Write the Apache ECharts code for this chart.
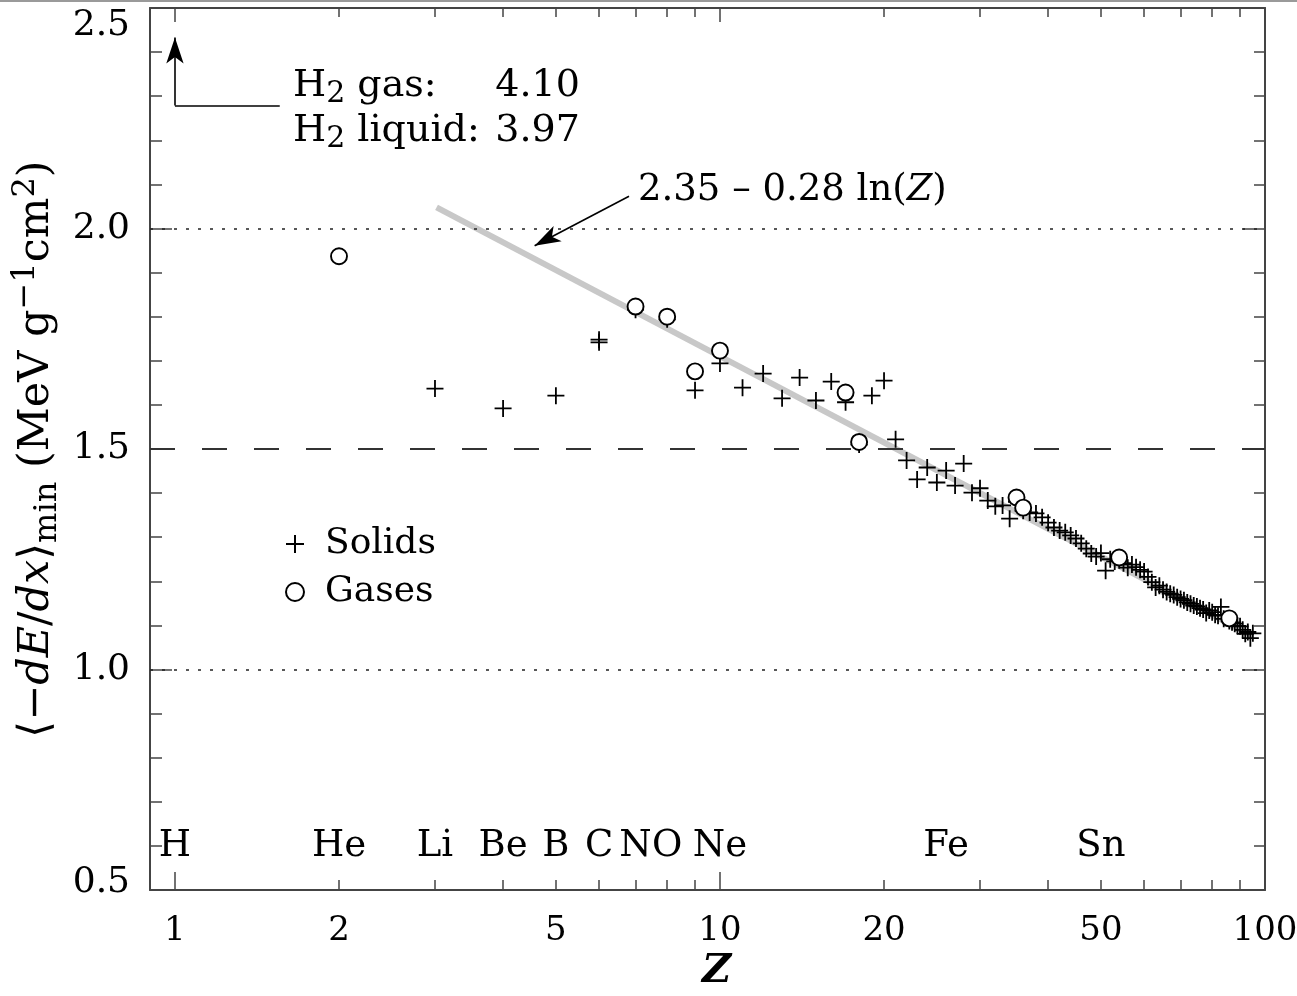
<!DOCTYPE html>
<html>
<head>
<meta charset="utf-8">
<script src="https://cdn.jsdelivr.net/npm/echarts@6/dist/echarts.min.js"></script>
<style>html,body{margin:0;padding:0;background:#fff}#c{width:1297px;height:996px}</style>
</head>
<body>
<div id="c"></div>
<script>
const FONT = '"DejaVu Serif", "Liberation Serif", serif';
const INK = '#000';
const FRAME = '#444';

// axis ticks
const xTickLabels = [1, 2, 5, 10, 20, 50, 100];
const xMajorTicks = [1, 10, 100];
const xMinorTicks = [2, 3, 4, 5, 6, 7, 8, 9, 20, 30, 40, 50, 60, 70, 80, 90];

// element labels along the bottom
const elementNames = ['H', 'He', 'Li', 'Be', 'B', 'C', 'N', 'O', 'Ne', 'Fe', 'Sn'];
const elementZ = [1, 2, 3, 4, 5, 6, 7, 8, 10, 26, 50];
const elementLabelLevel = 0.60;

// solids (+)
const solidsZ = [3, 4, 5, 6, 6, 7, 8, 9, 10, 11, 12, 13, 14, 15, 16, 17, 18, 19, 20,
  21, 22, 23, 24, 25, 26, 27, 28, 29, 30, 31, 32, 33, 34, 35, 36, 37, 38, 39, 40,
  41, 42, 43, 44, 45, 46, 47, 48, 49, 50, 51, 52, 53, 54, 55, 56, 57, 58, 59, 60,
  61, 62, 63, 64, 65, 66, 67, 68, 69, 70, 71, 72, 73, 74, 75, 76, 77, 78, 79, 80,
  81, 82, 83, 84, 86, 87, 88, 89, 90, 91, 92, 93, 94, 95];
const solidsVal = [1.637, 1.592, 1.621, 1.748, 1.742, 1.816, 1.794, 1.633, 1.694, 1.639, 1.671, 1.615, 1.662, 1.610, 1.653, 1.606, 1.510, 1.621, 1.655,
  1.522, 1.474, 1.431, 1.458, 1.424, 1.451, 1.417, 1.467, 1.401, 1.411, 1.383, 1.370, 1.372, 1.342, 1.380, 1.360, 1.356, 1.354, 1.345, 1.333,
  1.322, 1.315, 1.311, 1.304, 1.297, 1.286, 1.274, 1.263, 1.256, 1.264, 1.224, 1.250, 1.245, 1.248, 1.241, 1.231, 1.238, 1.232, 1.226, 1.222,
  1.210, 1.198, 1.186, 1.190, 1.181, 1.176, 1.172, 1.169, 1.164, 1.160, 1.157, 1.152, 1.149, 1.145, 1.143, 1.139, 1.136, 1.128, 1.134, 1.130,
  1.124, 1.122, 1.142, 1.115, 1.110, 1.107, 1.104, 1.099, 1.098, 1.090, 1.081, 1.085, 1.071, 1.082];

// gases (o)
const gasesZ = [2, 7, 8, 9, 10, 17, 18, 35, 36, 54, 86];
const gasesVal = [1.937, 1.823, 1.800, 1.676, 1.723, 1.628, 1.516, 1.390, 1.367, 1.254, 1.116];

// fit line 2.35 - 0.28 ln(Z), end points
const fitZ = [3.02, 95];
const fitVal = [2.048, 1.075];

// reference levels
const dottedLevels = [2.0, 1.0];
const dashedLevels = [1.5];

// annotation arrows (data coords)
const h2ArrowFrom = [1, 2.279];
const h2ArrowTo = [1, 2.433];
const h2LeaderEnd = [1.557, 2.279];
const fitArrowFrom = [6.81, 2.073];
const fitArrowTo = [4.57, 1.961];

const chart = echarts.init(document.getElementById('c'), null, {renderer: 'canvas'});

const tickStyle = {color: FRAME, width: 1.5};
const xBase = {
  type: 'log', logBase: 10, min: 0.9, max: 100, gridIndex: 0,
  splitLine: {show: false}, minorTick: {show: false}, minorSplitLine: {show: false},
  axisLine: {show: true, onZero: false, lineStyle: {color: FRAME, width: 2}},
  axisLabel: {show: false}, axisTick: {show: false}
};

const refLines = [];
dottedLevels.forEach(v => refLines.push({yAxis: v, lineStyle: {type: [3, 9], color: '#222', width: 1.7}}));
dashedLevels.forEach(v => refLines.push({yAxis: v, lineStyle: {type: [25, 27], color: '#333', width: 1.9}}));
refLines.push([{coord: h2ArrowFrom, symbol: 'none'}, {coord: h2ArrowTo, symbol: 'arrow', symbolSize: [13, 26]}]);
refLines.push([{coord: h2ArrowFrom, symbol: 'none'}, {coord: h2LeaderEnd, symbol: 'none'}]);
refLines.push([{coord: fitArrowFrom, symbol: 'none'}, {coord: fitArrowTo, symbol: 'arrow', symbolSize: [13, 26]}]);

const option = {
  animation: false,
  backgroundColor: '#fff',
  grid: {left: 150, right: 32, top: 8, bottom: 106, containLabel: false, outerBoundsMode: 'none'},
  xAxis: [
    Object.assign({}, xBase, {
      position: 'bottom',
      axisTick: {show: true, inside: true, length: 18, customValues: xMajorTicks, lineStyle: tickStyle},
      axisLabel: {show: true, customValues: xTickLabels, fontFamily: FONT, fontSize: 34, color: INK, margin: 24},
      name: 'Z', nameLocation: 'middle', nameGap: 62, nameMoveOverlap: false,
      nameTextStyle: {fontFamily: FONT, fontStyle: 'italic', fontWeight: 'bold', fontSize: 40, color: INK,
        padding: [0, 0, 0, 18]}
    }),
    Object.assign({}, xBase, {
      position: 'bottom', axisLine: {show: false, onZero: false},
      axisTick: {show: true, inside: true, length: 10, customValues: xMinorTicks, lineStyle: tickStyle}
    }),
    Object.assign({}, xBase, {
      position: 'top',
      axisTick: {show: true, inside: true, length: 14, customValues: xMajorTicks, lineStyle: tickStyle}
    }),
    Object.assign({}, xBase, {
      position: 'top', axisLine: {show: false, onZero: false},
      axisTick: {show: true, inside: true, length: 9, customValues: xMinorTicks, lineStyle: tickStyle}
    })
  ],
  yAxis: [
    {
      type: 'value', min: 0.5, max: 2.5, interval: 0.5, position: 'left',
      axisLine: {show: true, onZero: false, lineStyle: {color: FRAME, width: 2}},
      axisTick: {show: true, inside: true, length: 22, lineStyle: tickStyle},
      minorTick: {show: true, splitNumber: 5, length: 12, lineStyle: tickStyle},
      splitLine: {show: false},
      axisLabel: {fontFamily: FONT, fontSize: 36, color: INK, margin: 20,
        formatter: v => (v === 0.5 ? '{lo|' + v.toFixed(1) + '}' : v.toFixed(1)),
        rich: {lo: {fontFamily: FONT, fontSize: 36, color: INK, padding: [0, 0, 14, 0]}},
        verticalAlignMaxLabel: 'top'},
      name: '{n|⟨−}{i|dE}{n|/}{i|dx}{n|⟩}{s|min}{n| (MeV g}{p|−1}{n|cm}{p|2}{n|)}',
      nameLocation: 'middle', nameRotate: 90, nameGap: 86, nameMoveOverlap: false,
      nameTextStyle: {
        fontFamily: FONT, fontSize: 43, color: INK,
        rich: {
          n: {fontFamily: FONT, fontSize: 43, color: INK, lineHeight: 54},
          i: {fontFamily: FONT, fontSize: 43, fontStyle: 'italic', color: INK, lineHeight: 54},
          s: {fontFamily: FONT, fontSize: 32, color: INK, lineHeight: 32, verticalAlign: 'bottom'},
          p: {fontFamily: FONT, fontSize: 32, color: INK, lineHeight: 32, verticalAlign: 'top'}
        }
      }
    },
    {
      type: 'value', min: 0.5, max: 2.5, interval: 0.5, position: 'right',
      axisLine: {show: true, onZero: false, lineStyle: {color: FRAME, width: 2}},
      axisTick: {show: true, inside: true, length: 22, lineStyle: tickStyle},
      minorTick: {show: true, splitNumber: 5, length: 11, lineStyle: tickStyle},
      splitLine: {show: false},
      axisLabel: {show: false}
    }
  ],
  legend: {
    data: ['Solids', 'Gases'],
    orient: 'vertical', left: 285, top: 526, padding: 0,
    itemWidth: 18, itemHeight: 18, itemGap: 12, align: 'left',
    textStyle: {fontFamily: FONT, fontSize: 36, color: INK, lineHeight: 36, padding: [0, 0, 0, 16]}
  },
  series: [
    {
      name: 'fit', type: 'line', xAxisIndex: 0, yAxisIndex: 0, z: 1, silent: true,
      data: fitZ.map((z, i) => [z, fitVal[i]]),
      symbol: 'none', lineStyle: {color: '#c8c8c8', width: 6, cap: 'butt', opacity: 1},
      markLine: {
        silent: true, symbol: ['none', 'none'], label: {show: false},
        lineStyle: {color: INK, width: 1.6, type: 'solid', opacity: 1},
        itemStyle: {color: INK},
        emphasis: {disabled: true},
        data: refLines
      }
    },
    {
      name: 'Solids', type: 'scatter', xAxisIndex: 0, yAxisIndex: 0, z: 3,
      symbol: 'path://M0,5L10,5M5,0L5,10', symbolSize: 17,
      itemStyle: {color: 'rgba(0,0,0,0)', borderColor: '#000', borderWidth: 1.8, opacity: 1},
      data: solidsZ.map((z, i) => [z, solidsVal[i]])
    },
    {
      name: 'Gases', type: 'scatter', xAxisIndex: 0, yAxisIndex: 0, z: 4,
      symbol: 'circle', symbolSize: 16,
      itemStyle: {color: '#fff', borderColor: '#000', borderWidth: 1.9, opacity: 1},
      data: gasesZ.map((z, i) => [z, gasesVal[i]])
    },
    {
      name: 'elements', type: 'scatter', xAxisIndex: 0, yAxisIndex: 0, z: 5, silent: true,
      symbolSize: 1, itemStyle: {color: 'rgba(0,0,0,0)', opacity: 1},
      label: {show: true, position: 'inside', formatter: '{b}', fontFamily: FONT, fontSize: 37,
        color: INK, textBorderWidth: 0, opacity: 1},
      data: elementZ.map((z, i) => ({name: elementNames[i], value: [z, elementLabelLevel]}))
    }
  ],
  graphic: [
    {type: 'rect', shape: {x: 0, y: 0, width: 1297, height: 2}, style: {fill: '#9a9a9a'}, silent: true},
    {
      type: 'text', x: 293, y: 64, silent: true,
      style: {
        text: '{h|H}{s|2}{l| gas:}{v|4.10}\n{h|H}{s|2}{l| liquid:}{v|3.97}',
        fontFamily: FONT, fill: INK,
        rich: {
          h: {fontFamily: FONT, fontSize: 38, lineHeight: 45, fill: INK},
          s: {fontFamily: FONT, fontSize: 30, lineHeight: 30, verticalAlign: 'bottom', fill: INK},
          l: {fontFamily: FONT, fontSize: 38, lineHeight: 45, width: 150, fill: INK},
          v: {fontFamily: FONT, fontSize: 38, lineHeight: 45, fill: INK}
        }
      }
    },
    {
      type: 'text', x: 638, y: 190, silent: true,
      style: {
        text: '{n|2.35 – 0.28 ln(}{i|Z}{n|)}',
        verticalAlign: 'middle', fontFamily: FONT, fill: INK,
        rich: {
          n: {fontFamily: FONT, fontSize: 37, fill: INK},
          i: {fontFamily: FONT, fontSize: 37, fontStyle: 'italic', fill: INK}
        }
      }
    }
  ]
};

chart.setOption(option);
</script>
</body>
</html>
